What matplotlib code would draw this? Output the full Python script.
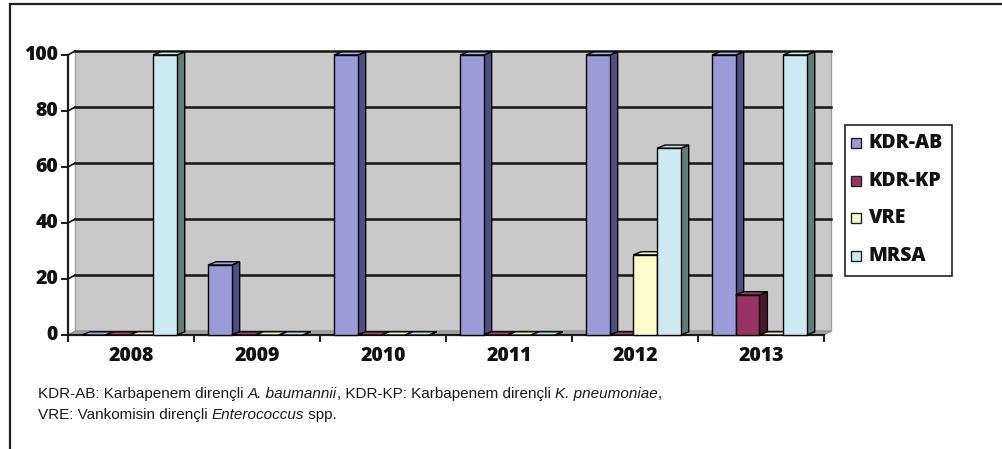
import matplotlib.pyplot as plt
from matplotlib.patches import Polygon, Rectangle
from matplotlib.lines import Line2D

years = ["2008", "2009", "2010", "2011", "2012", "2013"]
series = ["KDR-AB", "KDR-KP", "VRE", "MRSA"]
kdr_ab = [0, 25, 100, 100, 100, 100]
kdr_kp = [0, 0, 0, 0, 0, 14.3]
vre = [0, 0, 0, 0, 28.6, 0]
mrsa = [100, 0, 0, 0, 66.7, 100]
values = [kdr_ab, kdr_kp, vre, mrsa]
y_ticks = [0, 20, 40, 60, 80, 100]

# front, side, top colours per series
front = ["#9b9bd8", "#993366", "#fdfbcc", "#cdeaf2"]
side = ["#4e4e86", "#4a1830", "#83826a", "#5f7c78"]
top = ["#a9a9e0", "#a8456f", "#f4f2c4", "#c3e4ec"]

LBL = dict(fontsize=14, fontweight="heavy", family="Open Sans", color="#111111")

W, H = 1002, 449
fig = plt.figure(figsize=(W / 100, H / 100), dpi=100)
fig.patch.set_facecolor("white")

# outer frame
fig.add_artist(Line2D([10 / W, 10 / W], [0, 1 - 4 / H], color="#222222", lw=1.6))
fig.add_artist(Line2D([10 / W, 1], [1 - 4 / H, 1 - 4 / H], color="#222222", lw=1.6))

x0, x1, y0, y1 = 68, 824, 335, 55
ax = fig.add_axes([x0 / W, 1 - y0 / H, (x1 - x0) / W, (y0 - y1) / H])
ax.set_xlim(0, len(years))
ax.set_ylim(0, 100)
ax.axis("off")

px_x = len(years) / (x1 - x0)
px_y = 100 / (y0 - y1)
wdx, wdy = 7 * px_x, 4 * px_y      # wall depth
bdx, bdy = 8 * px_x, 3.2 * px_y    # bar depth
nx = len(years)

# back wall and floor
ax.add_patch(Rectangle((wdx, wdy), nx, 100, facecolor="#c9c9c9",
                       edgecolor="#a0a0a0", lw=1, clip_on=False, zorder=0))
ax.add_patch(Polygon([(0, 0), (nx, 0), (nx + wdx, wdy), (wdx, wdy)],
                     closed=True, facecolor="#a6a6a6", edgecolor="#8a8a8a",
                     lw=0.8, clip_on=False, zorder=1))
for t in y_ticks[1:]:
    ax.plot([wdx, nx + wdx], [t + wdy, t + wdy], color="#151515", lw=1.8,
            clip_on=False, zorder=1)
    ax.plot([0, wdx], [t, t + wdy], color="#151515", lw=1.2,
            clip_on=False, zorder=1)

# axes lines and ticks
ax.plot([0, 0], [0, 100], color="#1a1a1a", lw=1.6, clip_on=False, zorder=5)
ax.plot([0, nx], [0, 0], color="#1a1a1a", lw=1.6, clip_on=False, zorder=5)
for t in y_ticks:
    ax.plot([-6 * px_x, 0], [t, t], color="#1a1a1a", lw=1.4, clip_on=False, zorder=5)
    ax.text(-10 * px_x, t, str(t), ha="right", va="center", **LBL)
for i in range(nx + 1):
    ax.plot([i, i], [0, -6 * px_y], color="#1a1a1a", lw=1.4, clip_on=False, zorder=5)
for i, yr in enumerate(years):
    ax.text(i + 0.5, -21 * px_y, yr, ha="center", va="center", **LBL)

bar_w = 0.188
start = 0.111
for i in range(nx):
    for k in range(len(series)):
        v = values[k][i]
        xl = i + start + k * bar_w
        xr = xl + bar_w
        z = 6 + i * 4 + k
        ax.add_patch(Polygon([(xr, 0), (xr + bdx, bdy), (xr + bdx, v + bdy), (xr, v)],
                             closed=True, facecolor=side[k], edgecolor="black",
                             lw=1, clip_on=False, zorder=z))
        ax.add_patch(Polygon([(xl, v), (xr, v), (xr + bdx, v + bdy), (xl + bdx, v + bdy)],
                             closed=True, facecolor=top[k], edgecolor="black",
                             lw=1, clip_on=False, zorder=z))
        if v > 0:
            ax.add_patch(Rectangle((xl, 0), bar_w, v, facecolor=front[k],
                                   edgecolor="black", lw=1, clip_on=False, zorder=z))

# legend
fig.add_artist(Rectangle((845 / W, 1 - 276 / H), 107 / W, 151 / H,
                         transform=fig.transFigure, facecolor="white",
                         edgecolor="#222222", lw=1.2))
for k, name in enumerate(series):
    yc = 143 + k * 37.7
    fig.add_artist(Rectangle((851 / W, 1 - (yc + 5) / H), 10 / W, 10 / H,
                             transform=fig.transFigure, facecolor=front[k],
                             edgecolor="#222222", lw=1))
    fig.text(869 / W, 1 - yc / H, name, ha="left", va="center", **LBL)

# footnote with italic species names
note_lines = [
    [("KDR-AB: Karbapenem dirençli ", "normal"), ("A. baumannii", "italic"),
     (", KDR-KP: Karbapenem dirençli ", "normal"), ("K. pneumoniae", "italic"),
     (",", "normal")],
    [("VRE: Vankomisin dirençli ", "normal"), ("Enterococcus", "italic"),
     (" spp.", "normal")],
]
renderer = fig.canvas.get_renderer()
for li, parts in enumerate(note_lines):
    xpos = 38
    ypix = 394 + li * 21
    for txt, style in parts:
        t = fig.text(xpos / W, 1 - ypix / H, txt, ha="left", va="center",
                     fontsize=11, style=style, family="Liberation Sans",
                     color="#1a1a1a")
        xpos += t.get_window_extent(renderer).width

fig.savefig("out.png", dpi=100)
